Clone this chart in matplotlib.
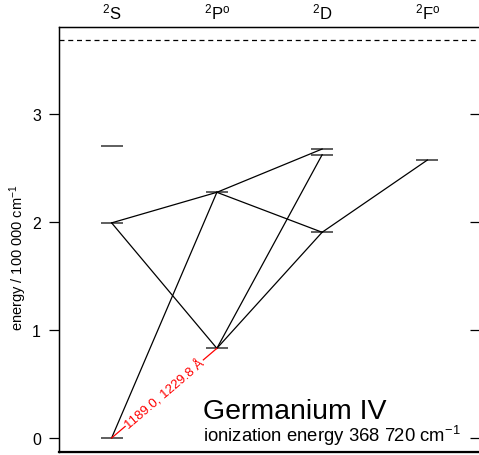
import matplotlib
matplotlib.use('Agg')
import matplotlib.pyplot as plt
import numpy as np

plt.rcParams['font.family'] = ['Liberation Sans', 'DejaVu Sans']
plt.rcParams['mathtext.fontset'] = 'custom'
plt.rcParams['mathtext.rm'] = 'Liberation Sans'
plt.rcParams['mathtext.it'] = 'Liberation Sans:italic'

# Term columns
terms = ['$^2$S', '$^2$P$^\\mathrm{o}$', '$^2$D', '$^2$F$^\\mathrm{o}$']

# Level energies (100 000 cm-1) per column
levels = {
    0: [0.0, 1.992, 2.706],
    1: [0.830, 2.275],
    2: [1.905, 2.623, 2.676],
    3: [2.574],
}
ionization = 3.6872

# Transitions: (column a, energy a, column b, energy b)
transitions = [
    (0, 0.0, 1, 2.275),
    (0, 1.992, 1, 2.275),
    (0, 1.992, 1, 0.830),
    (1, 0.830, 2, 1.905),
    (1, 0.830, 2, 2.623),
    (1, 2.275, 2, 2.676),
    (1, 2.275, 2, 1.905),
    (2, 1.905, 3, 2.574),
]
labelled = (0, 0.0, 1, 0.830)
labelled_text = '1189.0, 1229.8 Å'

W, H = 479, 456
fig = plt.figure(figsize=(W / 100, H / 100), dpi=100)
ax = fig.add_axes([59 / W, 3 / H, 421 / W, 425 / H])
ax.set_xlim(-0.5, 3.5)
ax.set_ylim(-0.13, 3.806)

# ionization limit
ax.axhline(ionization, color='black', lw=0.9, ls=(0, (4, 3)))

# level bars
half = 0.105
for col, es in levels.items():
    for e in es:
        ax.plot([col - half, col + half], [e, e], color='#333333', lw=1.1,
                solid_capstyle='butt')

# transitions
for a, ea, b, eb in transitions:
    ax.plot([a, b], [ea, eb], color='black', lw=0.9)

a, ea, b, eb = labelled
ax.plot([a, b], [ea, eb], color='red', lw=0.9)
p0 = ax.transData.transform((a, ea))
p1 = ax.transData.transform((b, eb))
angle = np.degrees(np.arctan2(p1[1] - p0[1], p1[0] - p0[0]))
ax.text((a + b) / 2, (ea + eb) / 2, labelled_text, color='red', fontsize=9.5,
        rotation=angle, rotation_mode='anchor', ha='center', va='center',
        bbox=dict(fc='white', ec='none', pad=0.5))

# axes styling
ax.set_xticks(range(len(terms)))
ax.set_xticklabels(terms, fontsize=12)
ax.xaxis.set_ticks_position('top')
ax.tick_params(axis='x', length=0, pad=4)

ax.set_yticks([0, 1, 2, 3])
ax.tick_params(axis='y', direction='out', length=7, width=0.9, labelsize=11.5, pad=6)
fig.text(18 / W, 1 - 258 / H, 'energy / 100 000 cm$^{-1}$', fontsize=10.5,
         rotation=90, ha='center', va='center')

ax2 = ax.twinx()
ax2.set_ylim(ax.get_ylim())
ax2.set_yticks([0, 1, 2, 3])
ax2.tick_params(axis='y', direction='in', length=7, width=0.9, labelright=False)

for s in ['right']:
    ax.spines[s].set_visible(False)
    ax2.spines[s].set_visible(False)
ax.spines['left'].set_linewidth(1.0)
ax.spines['top'].set_linewidth(1.0)
ax.spines['bottom'].set_linewidth(1.6)

ax.text(0.342, 0.079, 'Germanium IV', transform=ax.transAxes, fontsize=20.5,
        va='baseline', ha='left')
ax.text(0.342, 0.027, 'ionization energy 368 720 cm$^{-1}$', transform=ax.transAxes,
        fontsize=13.3, va='baseline', ha='left')

fig.savefig('out.png', dpi=100)
